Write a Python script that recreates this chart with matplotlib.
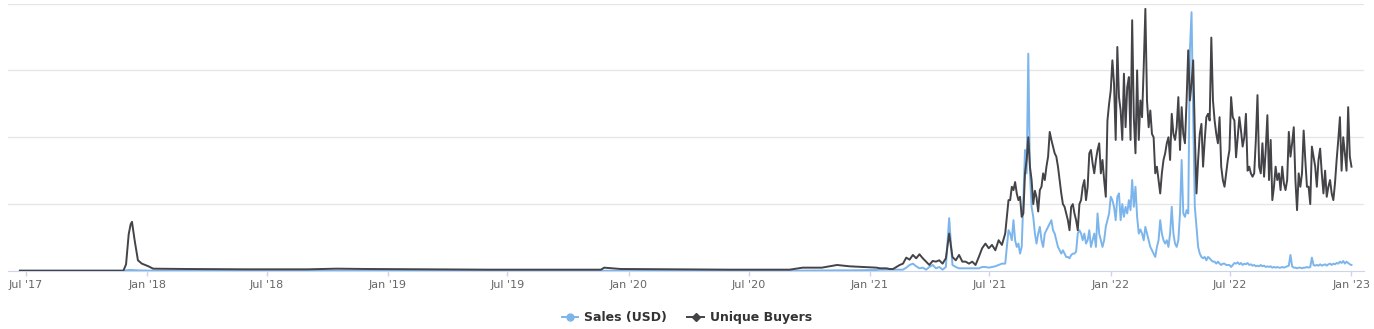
import pandas as pd
import numpy as np
import matplotlib
matplotlib.use('Agg')
import matplotlib.pyplot as plt
from matplotlib.lines import Line2D

# EARLY PERIOD (2017 - 2020), IRREGULAR DATES
early_dates = ['2017-06-22', '2017-11-26', '2017-11-30', '2017-12-04', '2017-12-07',
               '2017-12-09', '2017-12-13', '2017-12-18', '2017-12-24', '2018-01-03',
               '2018-01-10', '2018-03-01', '2018-06-01', '2018-09-01', '2018-10-15',
               '2018-12-01', '2019-03-01', '2019-06-01', '2019-09-01', '2019-11-20',
               '2019-11-25', '2019-12-20', '2020-03-01', '2020-06-01', '2020-09-01',
               '2020-09-21', '2020-10-20', '2020-11-12', '2020-12-01', '2020-12-20',
               '2021-01-11']
early_buyers = [0.005, 0.005, 0.10, 0.55, 0.70, 0.735, 0.46, 0.16, 0.11, 0.07,
                0.035, 0.03, 0.025, 0.025, 0.035, 0.03, 0.025, 0.02, 0.02, 0.02,
                0.05, 0.03, 0.025, 0.02, 0.02, 0.05, 0.05, 0.09, 0.07, 0.06, 0.05]
early_sales = [0.003, 0.003, 0.01, 0.015, 0.015, 0.015, 0.012, 0.01, 0.008, 0.006,
               0.005, 0.004, 0.004, 0.004, 0.004, 0.004, 0.003, 0.003, 0.003, 0.003,
               0.004, 0.004, 0.004, 0.004, 0.004, 0.006, 0.008, 0.01, 0.01, 0.012, 0.015]

# FIRST HALF OF 2021, EVERY 5 DAYS FROM 2021-01-16
mid_start = '2021-01-16'
mid_buyers = [0.04, 0.04, 0.04, 0.03, 0.03, 0.06, 0.09, 0.11, 0.20, 0.17,
              0.24, 0.19, 0.25, 0.19, 0.14, 0.09, 0.15, 0.14, 0.16, 0.11,
              0.19, 0.56, 0.21, 0.16, 0.24, 0.14, 0.14, 0.11, 0.14, 0.09,
              0.21, 0.34, 0.41, 0.34, 0.39, 0.31, 0.46, 0.39]
mid_sales = [0.02, 0.02, 0.02, 0.02, 0.02, 0.02, 0.02, 0.02, 0.05, 0.09,
             0.11, 0.07, 0.04, 0.05, 0.02, 0.06, 0.09, 0.04, 0.06, 0.02,
             0.06, 0.79, 0.09, 0.06, 0.04, 0.04, 0.04, 0.04, 0.04, 0.04,
             0.04, 0.06, 0.06, 0.05, 0.06, 0.07, 0.09, 0.11]

# ACTIVE PERIOD, EVERY 2.5 DAYS FROM 2021-07-25
late_start = '2021-07-25'
late_buyers = [0.56, 0.81, 1.06, 1.06, 1.26, 1.21, 1.33, 1.16, 1.06, 1.11,
               0.81, 0.86, 1.46, 1.66, 2.00, 1.56, 1.36, 1.00, 1.20, 1.10,
               0.89, 1.21, 1.26, 1.46, 1.36, 1.56, 1.71, 2.08, 1.96, 1.86,
               1.76, 1.71, 1.56, 1.36, 1.16, 1.00, 0.96, 0.86, 0.76, 0.61,
               0.96, 1.00, 0.86, 0.76, 0.61, 1.00, 1.06, 1.26, 1.36, 1.06,
               1.26, 1.76, 1.81, 1.61, 1.46, 1.66, 1.81, 1.91, 1.46, 1.66,
               1.36, 1.11, 2.25, 2.50, 2.70, 3.15, 2.80, 1.96, 3.35,
               2.60, 2.40, 1.96, 2.95, 2.15, 2.75, 2.90, 1.96, 3.75, 2.30,
               1.76, 3.00, 1.96, 2.55, 2.30, 3.05, 3.92, 2.55, 2.15, 2.40,
               2.05, 2.00, 1.46, 1.56, 1.36, 1.16, 1.46, 1.66, 1.76, 1.91,
               2.00, 1.66, 2.35, 2.05, 1.96, 2.15, 2.60, 1.81, 2.45, 2.05,
               1.91, 2.55, 3.30, 2.55, 2.80, 3.15, 2.05, 1.16, 1.66, 2.05,
               2.20, 1.56, 1.96, 2.30, 2.35, 2.25, 3.49, 2.55, 2.25, 2.05,
               1.91, 2.30, 1.56, 1.36, 1.26, 1.46, 1.66, 1.81, 2.60, 2.30,
               2.25, 1.70, 2.00, 2.30, 2.10, 1.86, 2.00, 2.35, 1.50, 1.56,
               1.46, 1.41, 1.46, 1.96, 2.63, 1.56, 1.46, 1.91, 1.41, 1.81,
               2.33, 1.36, 1.96, 1.06, 1.26, 1.56, 1.36, 1.46, 1.21, 1.56,
               1.31, 1.21, 1.36, 2.08, 1.71, 1.91, 2.15, 1.36, 0.91, 1.46,
               1.26, 1.46, 2.10, 1.66, 1.26, 1.26, 1.00, 1.86, 1.71, 1.56,
               1.26, 1.66, 1.83, 1.46, 1.16, 1.50, 1.11, 1.26, 1.36, 1.16,
               1.06, 1.31, 1.66, 1.96, 2.30, 1.50, 2.00, 1.76, 1.50, 2.45,
               1.71, 1.56]
late_sales = [0.11, 0.36, 0.61, 0.56, 0.46, 0.76, 0.46, 0.36, 0.41, 0.26,
              0.36, 1.06, 1.81, 1.46, 3.25, 1.46, 0.96, 0.81, 0.56, 0.41,
              0.56, 0.66, 0.46, 0.36, 0.56, 0.61, 0.66, 0.71, 0.76, 0.61,
              0.56, 0.46, 0.36, 0.31, 0.26, 0.31, 0.26, 0.21, 0.21, 0.19,
              0.24, 0.26, 0.26, 0.29, 0.56, 0.61, 0.56, 0.46, 0.56, 0.41,
              0.46, 0.61, 0.36, 0.46, 0.56, 0.36, 0.86, 0.56, 0.46, 0.36,
              0.46, 0.66, 0.76, 0.86, 1.11, 1.06, 0.96, 0.76, 1.11,
              1.16, 0.76, 1.00, 0.81, 0.96, 0.86, 1.06, 0.91, 1.36, 0.96,
              1.26, 0.81, 0.56, 0.62, 0.56, 0.46, 0.66, 0.56, 0.46, 0.36,
              0.31, 0.26, 0.21, 0.36, 0.46, 0.76, 0.56, 0.46, 0.41, 0.46,
              0.36, 0.56, 0.96, 0.56, 0.41, 0.36, 0.46, 0.86, 1.66, 0.86,
              0.81, 0.91, 0.86, 3.30, 3.87, 2.30, 0.96, 0.66, 0.36, 0.26,
              0.21, 0.19, 0.21, 0.16, 0.21, 0.19, 0.16, 0.14, 0.14, 0.11,
              0.14, 0.11, 0.09, 0.11, 0.11, 0.09, 0.09, 0.09, 0.06, 0.09,
              0.12, 0.11, 0.13, 0.10, 0.12, 0.09, 0.11, 0.10, 0.12, 0.09,
              0.10, 0.08, 0.09, 0.07, 0.08, 0.07, 0.09, 0.07, 0.08, 0.06,
              0.07, 0.06, 0.07, 0.05, 0.06, 0.05, 0.06, 0.05, 0.05, 0.06,
              0.05, 0.06, 0.07, 0.08, 0.24, 0.07, 0.05, 0.05, 0.04, 0.05,
              0.05, 0.04, 0.05, 0.05, 0.06, 0.05, 0.06, 0.20, 0.09, 0.08,
              0.09, 0.08, 0.10, 0.08, 0.09, 0.10, 0.08, 0.10, 0.11, 0.09,
              0.11, 0.10, 0.12, 0.11, 0.14, 0.12, 0.15, 0.11, 0.14, 0.12,
              0.10, 0.09]

tick_dates = ['2017-07-01', '2018-01-01', '2018-07-01', '2019-01-01', '2019-07-01',
              '2020-01-01', '2020-07-01', '2021-01-01', '2021-07-01', '2022-01-01',
              '2022-07-01', '2023-01-01']
tick_labels = ["Jul '17", "Jan '18", "Jul '18", "Jan '19", "Jul '19", "Jan '20",
               "Jul '20", "Jan '21", "Jul '21", "Jan '22", "Jul '22", "Jan '23"]

# BUILD SERIES
mid_dates = pd.date_range(mid_start, periods=len(mid_buyers), freq='5D')
late_dates = pd.date_range(late_start, periods=len(late_buyers), freq='60h')
dates = list(pd.to_datetime(early_dates)) + list(mid_dates) + list(late_dates)
buyers = early_buyers + mid_buyers + late_buyers
sales = early_sales + mid_sales + late_sales

blue = '#7cb5ec'
dark = '#434348'

fig = plt.figure(figsize=(13.74, 3.29), dpi=100)
ax = fig.add_axes([8 / 1374, 58 / 329, 1356 / 1374, 267.5 / 329])

ax.plot(dates, sales, color=blue, lw=1.4, zorder=3)
ax.plot(dates, buyers, color=dark, lw=1.4, zorder=4)

ax.set_ylim(0, 4)
ax.set_xlim(pd.Timestamp('2017-06-04'), pd.Timestamp('2023-01-20'))
ax.set_yticks([1, 2, 3, 4])
ax.yaxis.grid(True, color='#e6e6e6', lw=1)
ax.tick_params(axis='y', left=False, labelleft=False)
ax.set_axisbelow(True)

ax.set_xticks(pd.to_datetime(tick_dates))
ax.set_xticklabels(tick_labels)
ax.tick_params(axis='x', length=3.6, width=1, color='#ccd6eb', labelcolor='#666666',
               labelsize=8, pad=3)

for s in ['top', 'right', 'left']:
    ax.spines[s].set_visible(False)
ax.spines['bottom'].set_color('#ccd6eb')

handles = [Line2D([0], [0], color=blue, lw=1.4, marker='o', markersize=5),
           Line2D([0], [0], color=dark, lw=1.4, marker='D', markersize=4)]
leg = fig.legend(handles, ['Sales (USD)', 'Unique Buyers'], loc='center',
                 bbox_to_anchor=(0.5, 11 / 329), ncol=2, frameon=False,
                 handlelength=1.3, columnspacing=1.6, handletextpad=0.5,
                 prop={'size': 9, 'weight': 'bold'})
for t in leg.get_texts():
    t.set_color('#333333')

plt.savefig('out.png', dpi=100)
